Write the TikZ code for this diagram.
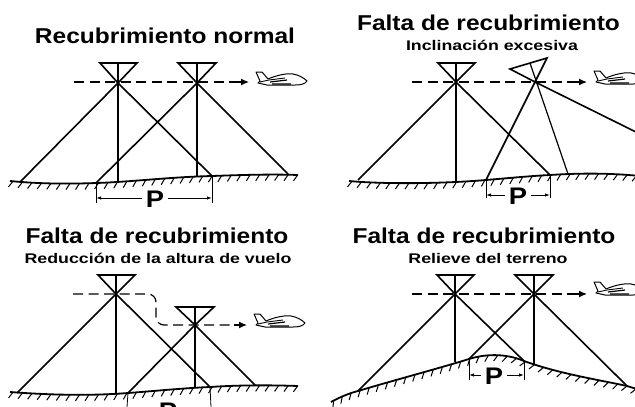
\documentclass[tikz,border=0pt]{standalone}
\usepackage{fontspec}
\setmainfont{Liberation Sans}
\newfontfamily\ttlfont[FakeStretch=1.14]{Liberation Sans}
\newfontfamily\subfont[FakeStretch=1.27]{Liberation Sans}
\usetikzlibrary{arrows.meta,decorations.markings}
\tikzset{
  ray/.style={line width=1.6pt,black},
  axis/.style={line width=1.2pt,black},
  flight/.style={line width=1.2pt,dash pattern=on 10pt off 5.5pt,black},
  arrowpart/.style={line width=1.2pt,-{Latex[length=8pt,width=7pt]}},
  ground/.style={line width=1.8pt,black,postaction={decorate},
    decoration={markings,mark=between positions 3pt and 1 step 9.5pt with {\draw[line width=1pt] (0,0) -- (-4,6);}}},
  ext/.style={line width=.8pt,black},
  dim/.style={line width=.9pt,black,{Latex[length=5pt,width=3.5pt]}-{Latex[length=5pt,width=3.5pt]}},
  ttl/.style={font=\ttlfont\fontsize{21.5}{24}\bfseries\selectfont,inner sep=0pt,anchor=base,text=black},
  sub/.style={font=\subfont\fontsize{14}{16}\bfseries\selectfont,inner sep=0pt,anchor=base,text=black},
  pnode/.style={font=\ttlfont\fontsize{24}{24}\bfseries\selectfont,inner sep=0pt,fill=white,inner xsep=4pt},
  plane/.pic={
    \draw[line width=1pt,fill=white,line join=round]
      (1,0) -- (7,0) -- (13,7) .. controls (22,3) and (33,1) .. (38,2) .. controls (44,3) and (49,6) .. (52,9)
      .. controls (50,12) and (46,13) .. (40,13) -- (12,13) -- (3,11) -- (5,9) -- cycle;
    \draw[line width=.9pt] (5,10) -- (14,8) -- (30,6);
    \draw[line width=1.2pt] (15,10) -- (32,8) (17,12) -- (36,12);
  }
}
\begin{document}
\begin{tikzpicture}[x=1pt,y=-1pt]
\useasboundingbox (0,0) rectangle (635,407);
\clip (0,0) rectangle (635,407);

% ---------- panel 1
\node[ttl] (t1) at (165,43) {Recubrimiento normal};
\coordinate (a1) at (118,83); \coordinate (a2) at (197,83);
\coordinate (g1) at (20,182); \coordinate (g2) at (96,183); \coordinate (g3) at (212,176); \coordinate (g4) at (288,174);
\draw[ground] (10,181) .. controls (40,184) and (70,184) .. (96,183) .. controls (130,182) and (170,177) .. (212,176) .. controls (240,175) and (270,174) .. (298,175);
\draw[ray] (100,63) -- (137,63) -- (a1) -- cycle;
\draw[ray] (178,63) -- (216,63) -- (a2) -- cycle;
\draw[axis] (118,63) -- (118,182); \draw[axis] (197,63) -- (197,176);
\draw[ray] (g1) -- (a1) -- (g3); \draw[ray] (g2) -- (a2) -- (g4);
\coordinate (f1a) at (74,82); \coordinate (f1b) at (240,82);
\draw[flight] (f1a) -- (f1b);
\draw[arrowpart] (236,82) -- (249,82);
\pic at (255,72) {plane};
\draw[ext] (g2) -- (96,203); \draw[ext] (g3) -- (212,203);
\draw[dim] (96,198) -- (212,198);
\node[pnode] (p1) at (155,199) {P};

% ---------- panel 2
\node[ttl] (t2) at (488.5,30) {Falta de recubrimiento};
\node[sub] (s2) at (492,50) {Inclinación excesiva};
\coordinate (b1) at (456,82); \coordinate (b2) at (535,82);
\coordinate (h1) at (358,180); \coordinate (h2) at (486,180); \coordinate (h3) at (550,175); \coordinate (h4) at (568,174); \coordinate (h5) at (640,134);
\draw[ground] (349,181) .. controls (380,184) and (440,184) .. (486,180) .. controls (510,178) and (530,176) .. (550,175) .. controls (580,173) and (610,173) .. (640,176);
\draw[ray] (438,63) -- (475,63) -- (b1) -- cycle;
\draw[ray] (510,69) -- (547,58) -- (b2) -- cycle;
\draw[axis] (456,63) -- (456,182); \draw[axis] (530,63) -- (h4);
\draw[ray] (h1) -- (b1) -- (h3); \draw[ray] (h2) -- (b2) -- (h5);
\coordinate (f2a) at (412,82); \coordinate (f2b) at (578,82);
\draw[flight] (f2a) -- (f2b);
\draw[arrowpart] (574,82) -- (587,82);
\pic at (593,71) {plane};
\draw[ext] (h2) -- (486,198); \draw[ext] (h3) -- (550,198);
\draw[dim] (486,195) -- (550,195);
\node[pnode] (p2) at (518,196) {P};

% ---------- panel 3
\node[ttl] (t3) at (157,243) {Falta de recubrimiento};
\node[sub] (s3) at (158,263) {Reducción de la altura de vuelo};
\coordinate (c1) at (116,294); \coordinate (c2) at (195,325);
\coordinate (k1) at (17,393); \coordinate (k2) at (128,393); \coordinate (k3) at (210,387); \coordinate (k4) at (255,385);
\draw[ground] (10,392) .. controls (50,395) and (90,396) .. (128,393) .. controls (155,391) and (185,388) .. (210,387) .. controls (240,385) and (270,385) .. (298,386);
\draw[ray] (98,275) -- (135,275) -- (c1) -- cycle;
\draw[ray] (176,307) -- (214,307) -- (c2) -- cycle;
\draw[axis] (116,275) -- (116,393); \draw[axis] (195,307) -- (195,387);
\draw[ray] (k1) -- (c1) -- (k3); \draw[ray] (k2) -- (c2) -- (k4);
\coordinate (f3a) at (73,294); \coordinate (f3b) at (238,325);
\draw[flight,rounded corners=8pt] (f3a) -- (156,294) -- (156,325) -- (f3b);
\draw[arrowpart] (234,325) -- (247,325);
\pic at (253,314) {plane};
\draw[ext] (k2) -- (127,407); \draw[ext] (k3) -- (211,407);
\node[pnode,fill=none,anchor=base] (p3) at (168,419) {P};

% ---------- panel 4
\node[ttl] (t4) at (484,243) {Falta de recubrimiento};
\node[sub] (s4) at (488,263) {Relieve del terreno};
\coordinate (d1) at (455,294); \coordinate (d2) at (534,294);
\coordinate (m1) at (358,391); \coordinate (m2) at (469,359); \coordinate (m3) at (524,361); \coordinate (m4) at (534,365); \coordinate (m5) at (627,386);
\draw[ground] (331,402) .. controls (340,397) and (350,393) .. (358,391) .. controls (395,380) and (440,368) .. (469,359) .. controls (485,354) and (505,353) .. (524,361) .. controls (560,374) and (600,380) .. (627,386) -- (640,390);
\draw[ray] (437,275) -- (474,275) -- (d1) -- cycle;
\draw[ray] (515,275) -- (553,275) -- (d2) -- cycle;
\draw[axis] (455,275) -- (455,362); \draw[axis] (534,275) -- (m4);
\draw[ray] (m1) -- (d1) -- (m3); \draw[ray] (m2) -- (d2) -- (m5);
\coordinate (f4a) at (412,294); \coordinate (f4b) at (578,294);
\draw[flight] (f4a) -- (f4b);
\draw[arrowpart] (574,294) -- (587,294);
\pic at (593,282) {plane};
\draw[ext] (m2) -- (469,380); \draw[ext] (m3) -- (524,380);
\draw[dim] (469,375) -- (524,375);
\node[pnode] (p4) at (494,376) {P};
\end{tikzpicture}
\end{document}
